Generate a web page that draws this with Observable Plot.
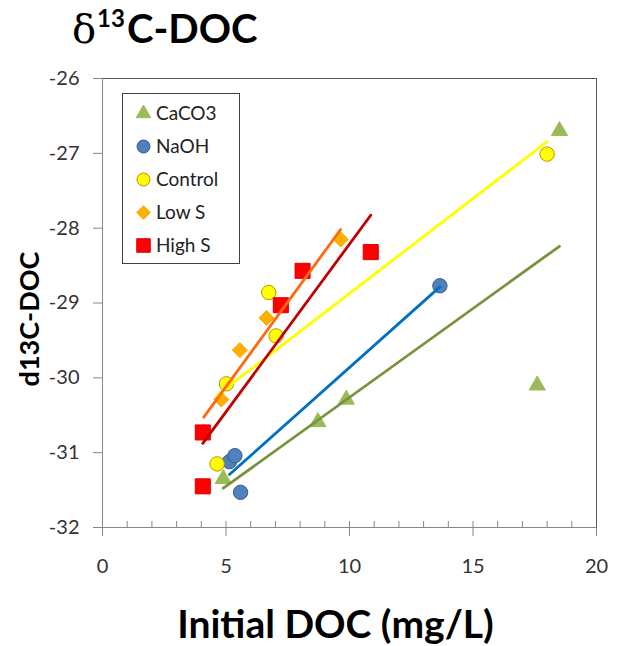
<!DOCTYPE html>
<html><head><meta charset="utf-8">
<script src="https://cdn.jsdelivr.net/npm/d3@7"></script>
<script src="https://cdn.jsdelivr.net/npm/@observablehq/plot@0.6"></script>
<style>
body{margin:0;background:#fff;font-family:Lato,"Open Sans",sans-serif;}
#wrap{position:relative;width:619px;height:646px;overflow:hidden;}
#head{height:60px;position:relative;}
#title{position:absolute;left:72px;top:8px;font-size:40px;font-weight:700;line-height:1;white-space:nowrap;color:#000;}
#title .delta{font-family:"DejaVu Serif",serif;font-weight:400;font-size:40px;}
#title .sup{font-size:24px;position:relative;top:-16px;margin:0 2px 0 1px;}
#legend{position:absolute;left:122px;top:93px;width:116px;height:169px;border:1px solid #404040;background:#fff;}
#legend .row{position:absolute;left:0;height:24px;line-height:24px;font-size:19px;color:#222;white-space:nowrap;}
#legend .row svg{position:absolute;left:11px;top:3px;}
#legend .row span{position:absolute;left:33px;top:0;}
</style></head>
<body>
<div id="wrap">
  <div id="head"><div id="title"><span class="delta">δ</span><span class="sup">13</span>C-DOC</div></div>
  <div id="chart"></div>
  <div id="legend"></div>
</div>
<script>
// ---- data ----
const seriesNames = ["CaCO3", "NaOH", "Control", "Low S", "High S"];
const caco3X = [4.89, 8.72, 9.87, 17.60, 18.50];
const caco3Y = [-31.35, -30.59, -30.29, -30.10, -26.70];
const naohX = [5.14, 5.36, 5.59, 13.66];
const naohY = [-31.12, -31.04, -31.53, -28.77];
const controlX = [4.64, 5.02, 6.73, 7.03, 18.00];
const controlY = [-31.15, -30.08, -28.86, -29.44, -27.01];
const lowSX = [4.10, 4.81, 5.56, 6.64, 9.64];
const lowSY = [-30.72, -30.29, -29.63, -29.20, -28.15];
const highSX = [4.06, 4.06, 7.22, 8.10, 10.86];
const highSY = [-30.73, -31.45, -29.03, -28.57, -28.32];
const xTicks = [0, 5, 10, 15, 20];
const xMinorTicks = [1,2,3,4,5,6,7,8,9,10,11,12,13,14,15,16,17,18,19];
const yTicks = [-32, -31, -30, -29, -28, -27, -26];
const xTitle = "Initial DOC (mg/L)";
const yTitle = "d13C-DOC";

// ---- styles ----
const seriesStyle = [
  {symbol: "triangle", r: 6.0, fill: "#9BBB59", stroke: "#9BBB59", line: "#77933C"},
  {symbol: "circle",   r: 7.2, fill: "#4F81BD", stroke: "#385D8A", line: "#0070C0"},
  {symbol: "circle",   r: 7.2, fill: "#FFFF00", stroke: "#C09000", line: "#FFFF00"},
  {symbol: "diamond2", r: 6.8, fill: "#FFB000", stroke: "#F9A800", line: "#FF6A10"},
  {symbol: "square",   r: 8.5, fill: "#FF0000", stroke: "#E00000", line: "#C00000"}
];
const seriesX = [caco3X, naohX, controlX, lowSX, highSX];
const seriesY = [caco3Y, naohY, controlY, lowSY, highSY];
const seriesRows = seriesNames.map((name, k) => seriesX[k].map((x, i) => ({series: name, x, y: seriesY[k][i]})));

const marks = [];
marks.push(Plot.frame({stroke: "#595959"}));
marks.push(Plot.ruleX([0], {stroke: "#868686"}));
marks.push(Plot.ruleY([-32], {stroke: "#868686"}));
marks.push(Plot.axisY(yTicks, {tickSize: 9, tickPadding: 14, color: "#333", stroke: "#868686", fontSize: 20, tickFormat: d => String(d), label: null}));
marks.push(Plot.axisX(xTicks, {tickSize: 9, tickPadding: 22, color: "#333", stroke: "#868686", fontSize: 20, tickFormat: d => String(d), label: null}));
marks.push(Plot.axisX(xMinorTicks, {tickSize: 6, dy: -6, stroke: "#868686", fill: "none", tickFormat: () => "", label: null}));
seriesRows.forEach((rows, k) => {
  const s = seriesStyle[k];
  marks.push(Plot.dot(rows, {x: "x", y: "y", symbol: () => s.symbol, r: s.r, fill: s.fill, stroke: s.stroke, strokeWidth: 1}));
});
seriesRows.forEach((rows, k) => {
  const s = seriesStyle[k];
  marks.push(Plot.linearRegressionY(rows, {x: "x", y: "y", stroke: s.line, strokeWidth: 2.8, ci: 0}));
});
marks.push(Plot.text([xTitle], {text: d => d, frameAnchor: "bottom", dx: -14, dy: 110, lineAnchor: "bottom", fontSize: 39, fontWeight: "bold", fill: "#000"}));
marks.push(Plot.text([yTitle], {text: d => d, frameAnchor: "left", dx: -64, dy: 16, rotate: -90, lineAnchor: "bottom", textAnchor: "middle", fontSize: 27, fontWeight: "bold", fill: "#000"}));

const chart = Plot.plot({
  width: 619,
  height: 586,
  marginTop: 18,
  marginBottom: 119,
  marginLeft: 102,
  marginRight: 23,
  x: {domain: [0, 20]},
  y: {domain: [-32, -26]},
  symbol: {type: "identity"},
  style: {fontFamily: "Lato, 'Open Sans', sans-serif", fontSize: "20px", background: "#fff", overflow: "visible"},
  marks
});
document.getElementById("chart").appendChild(chart);

// ---- legend (HTML overlay) ----
const symbolMap = {triangle: d3.symbolTriangle, circle: d3.symbolCircle, diamond2: d3.symbolDiamond2, square: d3.symbolSquare};
const legend = document.getElementById("legend");
seriesNames.forEach((name, i) => {
  const s = seriesStyle[i];
  const row = document.createElement("div");
  row.className = "row";
  row.style.top = (19 + i * 33.1 - 12) + "px";
  const size = Math.PI * (s.r * 0.9) ** 2;
  const svg = d3.create("svg").attr("width", 19).attr("height", 19);
  svg.append("path").attr("transform", "translate(9.5,9.5)")
    .attr("d", d3.symbol(symbolMap[s.symbol], size)())
    .attr("fill", s.fill).attr("stroke", s.stroke).attr("stroke-width", 1);
  row.appendChild(svg.node());
  const span = document.createElement("span");
  span.textContent = name;
  row.appendChild(span);
  legend.appendChild(row);
});
</script>
</body></html>
